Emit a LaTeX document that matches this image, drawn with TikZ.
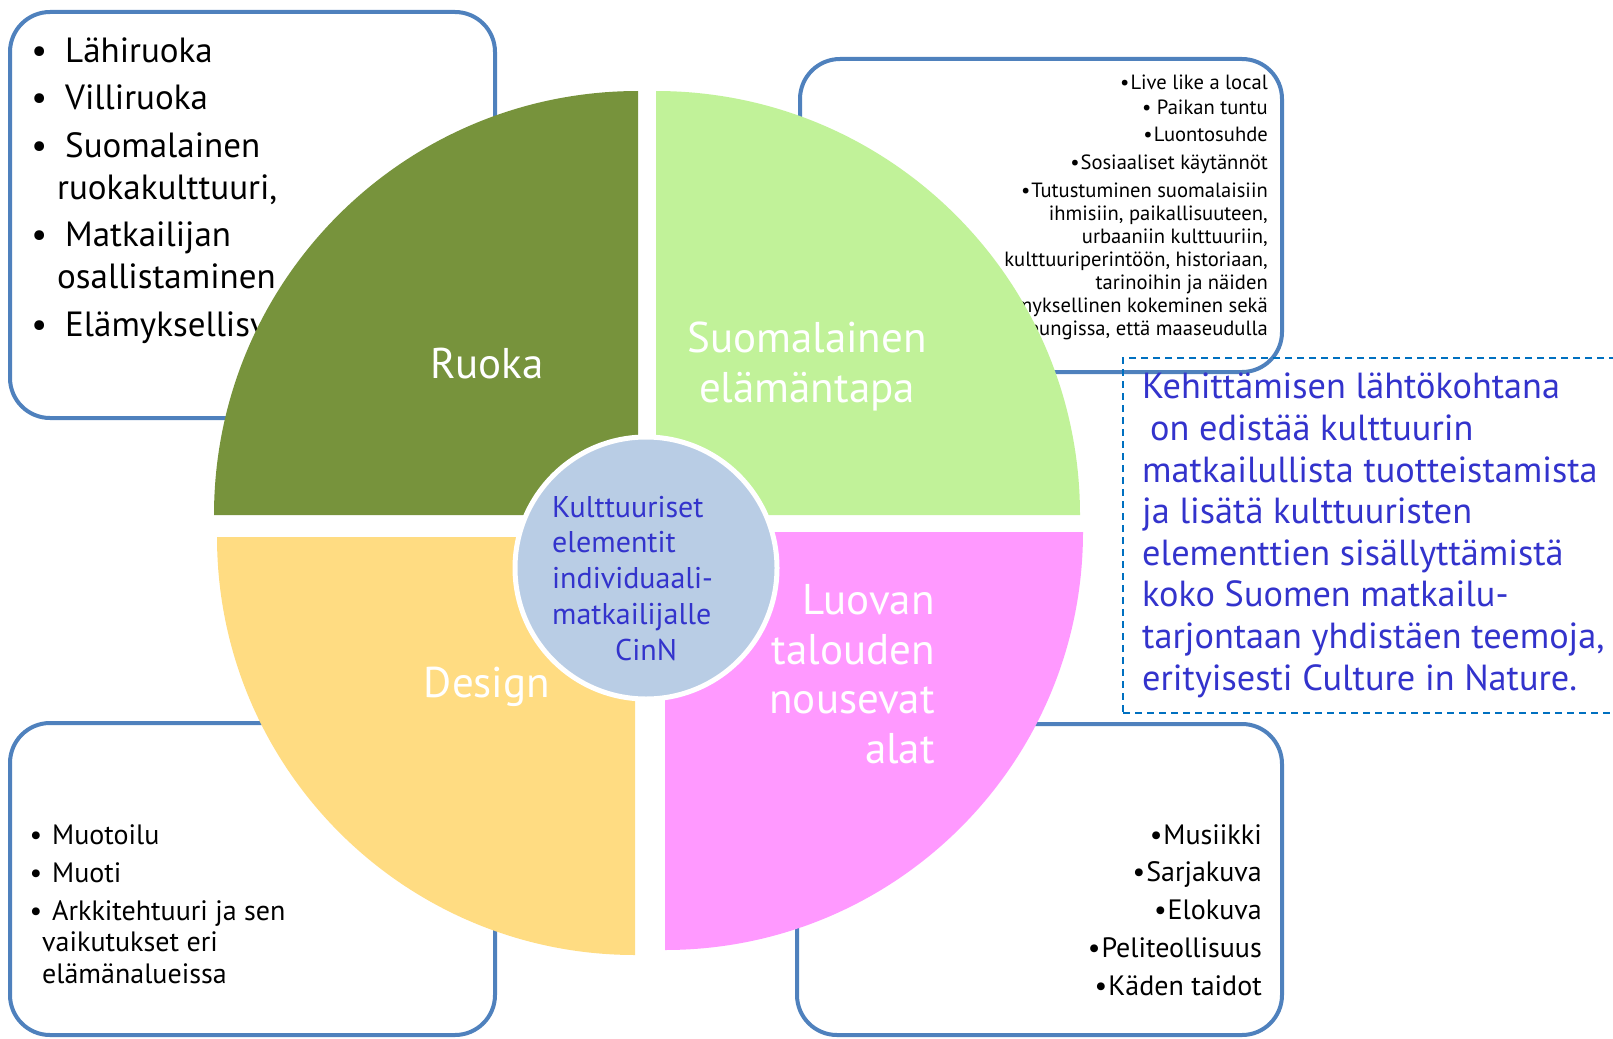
\documentclass[tikz,border=0pt]{standalone}
\usepackage{fontspec}
\setmainfont{PT Sans}
\usepackage{tikz}
\usetikzlibrary{positioning}
\definecolor{boxblue}{RGB}{79,129,189}
\definecolor{dashblue}{RGB}{0,112,192}
\definecolor{textblue}{RGB}{51,51,204}
\definecolor{ruokagreen}{RGB}{119,147,60}
\definecolor{tapagreen}{RGB}{193,242,153}
\definecolor{designyellow}{RGB}{255,220,130}
\definecolor{luovapink}{RGB}{255,153,255}
\definecolor{corefill}{RGB}{185,205,229}
\tikzset{info box/.style={rectangle, rounded corners=40pt, draw=boxblue, line width=4pt, fill=white}}
\tikzset{goal box/.style={rectangle, draw=dashblue, line width=2.5pt, dash pattern=on 7pt off 5pt}}
\tikzset{list text/.style={inner sep=0pt, align=#1}}
\tikzset{sector label/.style={inner sep=0pt, text=white, font=\fontsize{43}{49.5}\selectfont}}
\newcommand{\bul}[2]{\llap{\textbullet\hspace{#1}}\hspace*{#2}}

\begin{document}
\begin{tikzpicture}
  [x=1pt, y=-1pt]
  \clip (0,0) rectangle (1613,1038);

  \node [info box, minimum width=485pt, minimum height=406pt] (ruokabox)  at ( 252.5, 215  ) {};
  \node [info box, minimum width=482pt, minimum height=313pt] (tapabox)   at (1041  , 215.5) {};
  \node [info box, minimum width=485pt, minimum height=312pt] (designbox) at ( 252.5, 879  ) {};
  \node [info box, minimum width=485pt, minimum height=311pt] (luovabox)  at (1039.5, 879.5) {};

  % base anchors sit on the last line
  \node [list text=left,  anchor=base west, font=\fontsize{35}{42}\selectfont] (ruokalist) at (57,336)
    {\bul{10pt}{8pt}Lähiruoka\\[5.5pt] \bul{10pt}{8pt}Villiruoka\\[5.5pt] \bul{10pt}{8pt}Suomalainen\\ ruokakulttuuri,\\[5.5pt]
     \bul{10pt}{8pt}Matkailijan\\ osallistaminen\\[5.5pt] \bul{10pt}{8pt}Elämyksellisyys};
  \node [list text=right, anchor=base east, font=\fontsize{20.6}{23}\selectfont] (tapalist) at (1268,335)
    {\textbullet\kern1pt Live like a local\\[2pt] \textbullet\ Paikan tuntu\\[4pt] \textbullet\kern1pt Luontosuhde\\[5pt]
     \textbullet\kern1pt Sosiaaliset käytännöt\\[5pt] \textbullet\kern1pt Tutustuminen suomalaisiin\\ ihmisiin, paikallisuuteen,\\
     urbaaniin kulttuuriin,\\ kulttuuriperintöön, historiaan,\\ tarinoihin ja näiden\\
     elämyksellinen kokeminen sekä\\ kaupungissa, että maaseudulla};
  \node [list text=left,  anchor=base west, font=\fontsize{28}{31.5}\selectfont] (designlist) at (42,983)
    {\bul{0pt}{10pt}Muotoilu\\[6.5pt] \bul{0pt}{10pt}Muoti\\[6.5pt] \bul{0pt}{10pt}Arkkitehtuuri ja sen\\ vaikutukset eri\\ elämänalueissa};
  \node [list text=right, anchor=base east, font=\fontsize{28}{37.75}\selectfont] (luovalist) at (1262,995)
    {\textbullet\kern1pt Musiikki\\ \textbullet\kern1pt Sarjakuva\\ \textbullet\kern1pt Elokuva\\ \textbullet\kern1pt Peliteollisuus\\ \textbullet\kern1pt Käden taidot};

  \node [goal box, minimum width=507pt, minimum height=355pt] (goalbox) at (1376.5,535.5) {};
  \node [list text=left,  anchor=base west, text=textblue, font=\fontsize{36.3}{41.6}\selectfont] (goal) at (1142,690)
    {Kehittämisen lähtökohtana\\ \hspace*{8pt}on edistää kulttuurin\\ matkailullista tuotteistamista\\ ja lisätä kulttuuristen\\
     elementtien sisällyttämistä\\ koko Suomen matkailu-\\ tarjontaan yhdistäen teemoja,\\ erityisesti Culture in Nature.};

  \fill [ruokagreen]   (638,515) -- ++(-424,0) arc [start angle=180, end angle=270, radius=424] -- cycle;
  \fill [tapagreen]    (656,515) -- ++(0,-424) arc [start angle=270, end angle=360, radius=424] -- cycle;
  \fill [luovapink]    (665,532) -- ++(418,0)  arc [start angle=0,   end angle=90,  radius=418] -- cycle;
  \fill [designyellow] (635,537) -- ++(0,418)  arc [start angle=90,  end angle=180, radius=418] -- cycle;

  \node [circle, fill=corefill, draw=white, line width=5pt, minimum size=262pt, inner sep=0pt] (core) at (646,568) {};
  \node [list text=left,  anchor=base west, text=textblue, font=\fontsize{30}{35.75}\selectfont] (coretext) at (552,660)
    {Kulttuuriset\\ elementit\\ individuaali-\\ matkailijalle\\ \hspace*{63pt}CinN};

  \node [sector label, anchor=base]                   (ruoka)  at (487,378) {Ruoka};
  \node [sector label, anchor=base, align=center]      (tapa)   at (807,402) {Suomalainen\\ elämäntapa};
  \node [sector label, anchor=base]                   (design) at (487,697) {Design};
  \node [sector label, anchor=base east, align=right]  (luova)  at (935,763) {Luovan\\ talouden\\ nousevat\\ alat};
\end{tikzpicture}
\end{document}
